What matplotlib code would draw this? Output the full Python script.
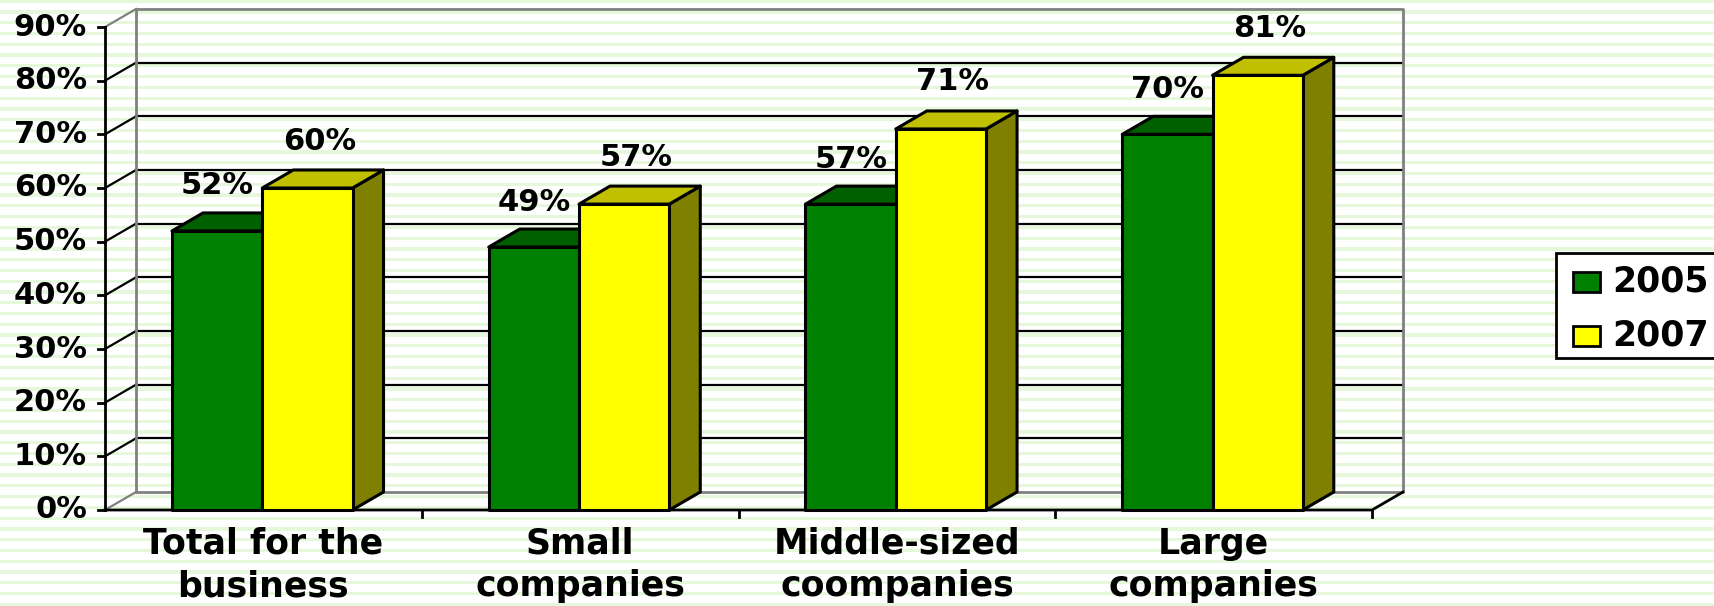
import matplotlib.pyplot as plt
import numpy as np
from matplotlib.patches import Polygon, Rectangle

# data
categories = ["Total for the\nbusiness", "Small\ncompanies",
              "Middle-sized\ncoompanies", "Large\ncompanies"]
years = ["2005", "2007"]
values_2005 = [52, 49, 57, 70]
values_2007 = [60, 57, 71, 81]
yticks = [0, 10, 20, 30, 40, 50, 60, 70, 80, 90]

# colours: front, top, side
green = ("#008000", "#006000", "#004000")
yellow = ("#ffff00", "#c0c000", "#808000")
grey = "#808080"
stripe = "#e6f8dc"

W, H = 1714, 606
fig = plt.figure(figsize=(W / 100, H / 100), dpi=100)
ax = fig.add_axes([0, 0, 1, 1])
ax.set_facecolor("white")

# pixel layout of the front plane of the chart
x0_px, x1_px = 105, 1372
y0_px, y90_px = 510, 27
sx = (x1_px - x0_px) / 4
sy = (y0_px - y90_px) / 90
ax.set_xlim(-x0_px / sx, (W - x0_px) / sx)
ax.set_ylim(-(H - y0_px) / sy, y0_px / sy)
ax.axis("off")


def X(px):
    return (px - x0_px) / sx


def Y(py):
    return (y0_px - py) / sy


# depth of the 3d effect
dx = 31 / sx
dy = 18 / sy

# background stripes
for p in np.arange(-0.4, H, 10.77):
    ax.axhspan(Y(p + 3.2), Y(p), color=stripe, lw=0, zorder=0)

font = dict(family="DejaVu Sans", weight="bold", color="black")

n = len(categories)
ymax = yticks[-1]

# walls
for t in yticks:
    c = grey if t in (0, ymax) else "black"
    ax.plot([0, dx], [t, t + dy], color=c, lw=1.6, zorder=1)
    if 0 < t < ymax:
        ax.plot([dx, n + dx], [t + dy, t + dy], color="black", lw=1.6, zorder=1)
ax.plot([dx, dx, n + dx, n + dx, dx], [dy, ymax + dy, ymax + dy, dy, dy],
        color=grey, lw=2, zorder=1)

# front axes
ax.plot([0, 0], [0, ymax], color="black", lw=2, zorder=2)
ax.plot([0, n, n + dx], [0, 0, dy], color="black", lw=2, zorder=2)
for t in yticks:
    ax.plot([0, X(x0_px - 7)], [t, t], color="black", lw=2, zorder=2)
    ax.text(X(87), t, f"{t}%", ha="right", va="center", fontsize=22, **font)
for k in range(1, n + 1):
    ax.plot([k, k], [0, Y(y0_px + 7)], color="black", lw=2, zorder=2)

# bars
bw = 0.285
start = 0.2115


def bar3d(a, v, cols, z):
    b = a + bw
    side = [(b, 0), (b + dx, dy), (b + dx, v + dy), (b, v)]
    top = [(a, v), (b, v), (b + dx, v + dy), (a + dx, v + dy)]
    ax.add_patch(Polygon(side, fc=cols[2], ec="black", lw=2.2, zorder=z, joinstyle="round"))
    ax.add_patch(Polygon(top, fc=cols[1], ec="black", lw=2.2, zorder=z, joinstyle="round"))
    ax.add_patch(Rectangle((a, 0), bw, v, fc=cols[0], ec="black", lw=2.2, zorder=z, joinstyle="round"))


for i in range(n):
    a = i + start
    bar3d(a, values_2005[i], green, 3 + 2 * i)
    bar3d(a + bw, values_2007[i], yellow, 4 + 2 * i)
    ax.text(a + bw / 2, values_2005[i] + dy + 27 / sy, f"{values_2005[i]}%",
            ha="center", va="center", fontsize=22, zorder=20, **font)
    ax.text(a + 1.5 * bw + 12 / sx, values_2007[i] + dy + 29 / sy, f"{values_2007[i]}%",
            ha="center", va="center", fontsize=22, zorder=20, **font)
    ax.text(i + 0.5, Y(565), categories[i], ha="center", va="center",
            fontsize=25, linespacing=1.32, **font)

# legend
ax.add_patch(Rectangle((X(1556), Y(358)), X(1740) - X(1556), Y(253) - Y(358),
                       fc="white", ec="black", lw=2, zorder=5, clip_on=False))
for j, (lab, cols) in enumerate(zip(years, [green, yellow])):
    yc = 282 + 54 * j
    ax.add_patch(Rectangle((X(1573), Y(yc + 10)), X(1600) - X(1573), Y(yc - 10) - Y(yc + 10),
                           fc=cols[0], ec="black", lw=2, zorder=6))
    ax.text(X(1612), Y(yc), lab, ha="left", va="center", fontsize=25, zorder=6, **font)

fig.savefig("out.png", dpi=100)
